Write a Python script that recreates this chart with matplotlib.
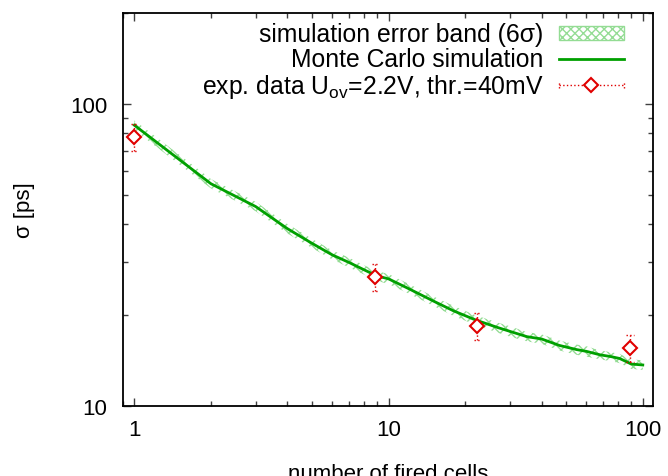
import matplotlib
matplotlib.use('Agg')
import matplotlib.pyplot as plt
from matplotlib.lines import Line2D
from matplotlib.patches import Patch
from matplotlib.legend_handler import HandlerBase
from matplotlib.ticker import FixedLocator, NullFormatter, FuncFormatter, LogLocator

plt.rcParams['font.family'] = ['Liberation Sans', 'DejaVu Sans']
plt.rcParams['mathtext.fontset'] = 'custom'
plt.rcParams['mathtext.rm'] = 'Liberation Sans'
plt.rcParams['mathtext.it'] = 'Liberation Sans'
plt.rcParams['hatch.linewidth'] = 1.0

# Monte Carlo simulation
mc_x = [1, 2, 3, 4, 5, 6, 7, 8, 9, 10, 12, 15, 18, 22, 27, 30, 35, 40, 47, 55, 60, 68, 75, 81, 87, 90, 100]
mc_y = [85.1, 54.5, 45.8, 38.7, 34.6, 31.7, 29.9, 28.3, 27.0, 26.4, 24.5, 22.3, 20.7, 19.3, 18.2, 17.7,
        17.0, 16.7, 15.9, 15.4, 15.2, 14.8, 14.6, 14.4, 14.0, 13.8, 13.7]
# 6 sigma error band
band_lo = [82.0, 52.6, 44.2, 37.3, 33.4, 30.6, 28.8, 27.3, 26.0, 25.4, 23.6, 21.5, 19.9, 18.6, 17.5, 17.0,
           16.4, 16.1, 15.3, 14.8, 14.6, 14.3, 14.1, 13.9, 13.5, 13.3, 13.2]
band_hi = [88.3, 56.5, 47.5, 40.1, 35.8, 32.8, 31.0, 29.3, 28.0, 27.4, 25.4, 23.1, 21.5, 20.0, 18.9, 18.4,
           17.6, 17.3, 16.5, 16.0, 15.8, 15.3, 15.1, 14.9, 14.5, 14.3, 14.2]

# measured points
exp_x = [1.0, 8.86, 22.3, 89.1]
exp_y = [78.0, 26.8, 18.5, 15.6]
exp_lo = [70.0, 24.1, 16.6, 14.0]
exp_hi = [86.1, 29.5, 20.3, 17.2]

band_col = '#94dc94'
line_col = '#00a000'
red = '#e00000'
fs = 16
lfs = 17.8


class ErrKey(HandlerBase):
    def create_artists(self, legend, orig_handle, xdescent, ydescent, width, height, fontsize, trans):
        y = height / 2 - ydescent
        x0, x1 = -xdescent, width - xdescent
        c = 2.5
        arts = [
            Line2D([x0, x1], [y, y], color=red, ls=':', lw=1.0),
            Line2D([x0, x0], [y - c, y + c], color=red, ls=':', lw=1.0),
            Line2D([x1, x1], [y - c, y + c], color=red, ls=':', lw=1.0),
            Line2D([(x0 + x1) / 2], [y], marker='D', ms=7, mfc='white', mec=red, mew=1.5, ls='none'),
        ]
        for a in arts:
            a.set_transform(trans)
        return arts


fig = plt.figure(figsize=(6.68, 4.77), dpi=100)
ax = fig.add_axes([0.1837, 0.1461, 0.7943, 0.8245])

ax.fill_between(mc_x, band_lo, band_hi, facecolor='none', edgecolor=band_col, hatch='xxx', lw=0)
ax.plot(mc_x, mc_y, color=line_col, lw=2)

yerr = [[y - lo for y, lo in zip(exp_y, exp_lo)], [hi - y for y, hi in zip(exp_y, exp_hi)]]
eb = ax.errorbar(exp_x, exp_y, yerr=yerr, fmt='D', ms=7, mfc='white', mec=red, mew=1.5,
                 ecolor=red, elinewidth=1.0, capsize=0, zorder=5)
eb[2][0].set_linestyle(':')
# dotted caps, about 7 px wide
cap_x0 = [x * 10 ** -0.014 for x in exp_x]
cap_x1 = [x * 10 ** 0.014 for x in exp_x]
ax.hlines(exp_lo + exp_hi, cap_x0 + cap_x0, cap_x1 + cap_x1, colors=red, linestyles=':', lw=1.0, zorder=5)

ax.set_xscale('log')
ax.set_yscale('log')
ax.set_xlim(0.9, 110)
ax.set_ylim(10, 200)

ax.xaxis.set_major_locator(FixedLocator([1, 10, 100]))
ax.yaxis.set_major_locator(FixedLocator([10, 100]))
ax.xaxis.set_minor_locator(LogLocator(base=10, subs=range(2, 10)))
ax.yaxis.set_minor_locator(LogLocator(base=10, subs=range(2, 10)))
fmt = FuncFormatter(lambda v, p: '%d' % round(v))
ax.xaxis.set_major_formatter(fmt)
ax.yaxis.set_major_formatter(fmt)
ax.xaxis.set_minor_formatter(NullFormatter())
ax.yaxis.set_minor_formatter(NullFormatter())
ax.tick_params(which='both', direction='in', top=True, right=True, color='#404040', labelsize=fs)
ax.tick_params(which='major', length=6, width=1)
ax.tick_params(which='minor', length=3.5, width=1)
ax.tick_params(axis='x', pad=9)
ax.tick_params(axis='y', pad=11)
for s in ax.spines.values():
    s.set_linewidth(1.3)

fig.text(25 / 668, 1 - 210 / 477, 'σ [ps]', rotation=90, ha='center', va='center', fontsize=fs)
fig.text(388 / 668, 1 - 480 / 477, 'number of fired cells', ha='center', va='baseline', fontsize=fs)

err_proxy = Line2D([], [])
handles = [Patch(facecolor='none', edgecolor=band_col, hatch='xxxx', lw=1),
           Line2D([], [], color=line_col, lw=2),
           err_proxy]
labels = ['simulation error band (6σ)', 'Monte Carlo simulation',
          'exp. data U$_\\mathrm{ov}$=2.2V, thr.=40mV']
ax.legend(handles, labels, loc='upper right', bbox_to_anchor=(0.944, 0.976), frameon=False,
          markerfirst=False, fontsize=lfs, handlelength=2.6, handletextpad=0.64, labelspacing=0.04,
          borderpad=0, borderaxespad=0, handleheight=0.5, handler_map={err_proxy: ErrKey()})

fig.savefig('out.png', dpi=100)
